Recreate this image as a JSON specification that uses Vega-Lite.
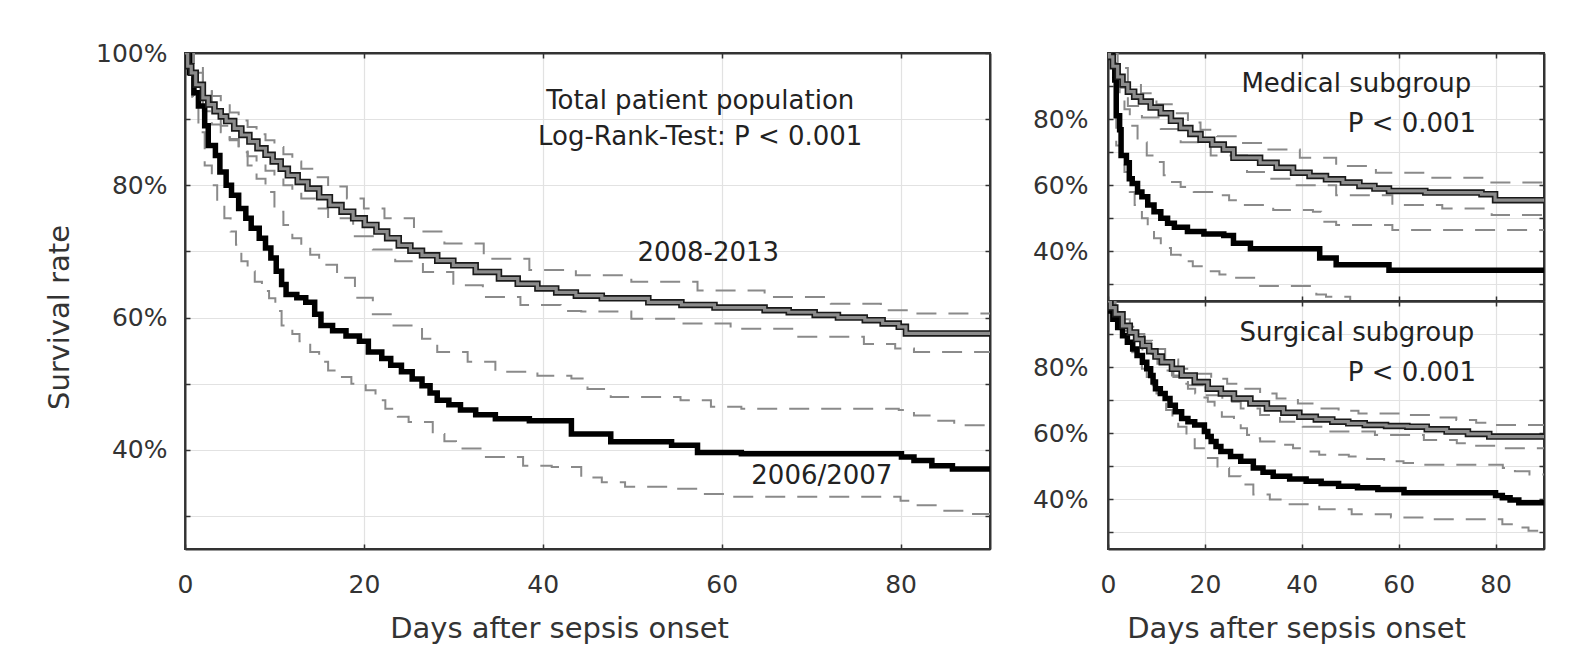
{
"$schema": "https://vega.github.io/schema/vega-lite/v6.json",
"padding": {"left": 44, "top": 40, "right": 10, "bottom": 10},
"background": "white",
"datasets": {
"c": [
{"p":"L","s":"b","d":0,"v":100},{"p":"L","s":"b","d":0.5,"v":97},{"p":"L","s":"b","d":1,"v":94},{"p":"L","s":"b","d":1.5,"v":92},{"p":"L","s":"b","d":2.2,"v":89},{"p":"L","s":"b","d":2.6,"v":86},{"p":"L","s":"b","d":3.4,"v":84.5},{"p":"L","s":"b","d":3.9,"v":82},{"p":"L","s":"b","d":4.6,"v":80},{"p":"L","s":"b","d":5.2,"v":78.5},{"p":"L","s":"b","d":6,"v":76.5},{"p":"L","s":"b","d":6.8,"v":75},{"p":"L","s":"b","d":7.4,"v":73.5},{"p":"L","s":"b","d":8.3,"v":72},{"p":"L","s":"b","d":9,"v":70.5},{"p":"L","s":"b","d":9.6,"v":69},{"p":"L","s":"b","d":10.2,"v":67},{"p":"L","s":"b","d":10.8,"v":65},{"p":"L","s":"b","d":11.3,"v":63.5},{"p":"L","s":"b","d":12.5,"v":63},{"p":"L","s":"b","d":13.5,"v":62.3},{"p":"L","s":"b","d":14.5,"v":60.5},{"p":"L","s":"b","d":15.2,"v":58.8},{"p":"L","s":"b","d":16.5,"v":58},{"p":"L","s":"b","d":18,"v":57.2},{"p":"L","s":"b","d":19.5,"v":56.4},{"p":"L","s":"b","d":20.5,"v":54.8},{"p":"L","s":"b","d":22,"v":53.8},{"p":"L","s":"b","d":23,"v":52.8},{"p":"L","s":"b","d":24.2,"v":51.8},{"p":"L","s":"b","d":25.4,"v":50.7},{"p":"L","s":"b","d":26.5,"v":49.7},{"p":"L","s":"b","d":27.4,"v":48.6},{"p":"L","s":"b","d":28.2,"v":47.5},{"p":"L","s":"b","d":29.5,"v":46.8},{"p":"L","s":"b","d":30.8,"v":46},{"p":"L","s":"b","d":32.5,"v":45.3},{"p":"L","s":"b","d":34.7,"v":44.7},{"p":"L","s":"b","d":38.5,"v":44.4},{"p":"L","s":"b","d":43.2,"v":42.4},{"p":"L","s":"b","d":47.6,"v":41.2},{"p":"L","s":"b","d":54.4,"v":40.7},{"p":"L","s":"b","d":57.3,"v":39.6},{"p":"L","s":"b","d":62.2,"v":39.4},{"p":"L","s":"b","d":80.1,"v":38.9},{"p":"L","s":"b","d":81.5,"v":38.4},{"p":"L","s":"b","d":83.5,"v":37.6},{"p":"L","s":"b","d":85.8,"v":37.1},{"p":"L","s":"b","d":90,"v":37.1},
{"p":"L","s":"bu","d":0,"v":100},{"p":"L","s":"bu","d":1,"v":98},{"p":"L","s":"bu","d":2,"v":95},{"p":"L","s":"bu","d":3,"v":92},{"p":"L","s":"bu","d":4,"v":89},{"p":"L","s":"bu","d":5,"v":87},{"p":"L","s":"bu","d":6,"v":85},{"p":"L","s":"bu","d":7,"v":83},{"p":"L","s":"bu","d":8,"v":81},{"p":"L","s":"bu","d":9,"v":79},{"p":"L","s":"bu","d":10,"v":76},{"p":"L","s":"bu","d":11,"v":74},{"p":"L","s":"bu","d":12,"v":72},{"p":"L","s":"bu","d":13,"v":71},{"p":"L","s":"bu","d":14,"v":69.5},{"p":"L","s":"bu","d":15,"v":68},{"p":"L","s":"bu","d":17,"v":66},{"p":"L","s":"bu","d":19,"v":63},{"p":"L","s":"bu","d":21,"v":60.5},{"p":"L","s":"bu","d":23,"v":58.8},{"p":"L","s":"bu","d":26.5,"v":56.8},{"p":"L","s":"bu","d":28.2,"v":54.8},{"p":"L","s":"bu","d":31.6,"v":53.3},{"p":"L","s":"bu","d":34.7,"v":51.8},{"p":"L","s":"bu","d":39.4,"v":51.2},{"p":"L","s":"bu","d":43.2,"v":50.8},{"p":"L","s":"bu","d":45,"v":49.2},{"p":"L","s":"bu","d":47.6,"v":48},{"p":"L","s":"bu","d":55.4,"v":47.5},{"p":"L","s":"bu","d":58.8,"v":46.5},{"p":"L","s":"bu","d":62.2,"v":46.2},{"p":"L","s":"bu","d":79.8,"v":46},{"p":"L","s":"bu","d":81.5,"v":45.2},{"p":"L","s":"bu","d":83.8,"v":44.4},{"p":"L","s":"bu","d":86,"v":43.7},{"p":"L","s":"bu","d":90,"v":43.7},
{"p":"L","s":"bl","d":0,"v":100},{"p":"L","s":"bl","d":0.8,"v":93},{"p":"L","s":"bl","d":1.5,"v":88},{"p":"L","s":"bl","d":2.2,"v":83},{"p":"L","s":"bl","d":3,"v":80},{"p":"L","s":"bl","d":3.6,"v":77},{"p":"L","s":"bl","d":4.4,"v":75},{"p":"L","s":"bl","d":5.1,"v":73},{"p":"L","s":"bl","d":5.7,"v":71},{"p":"L","s":"bl","d":6.3,"v":68.5},{"p":"L","s":"bl","d":7,"v":67},{"p":"L","s":"bl","d":7.8,"v":65.4},{"p":"L","s":"bl","d":8.6,"v":64},{"p":"L","s":"bl","d":9.4,"v":62.9},{"p":"L","s":"bl","d":10.1,"v":61},{"p":"L","s":"bl","d":10.8,"v":58.8},{"p":"L","s":"bl","d":12,"v":57.5},{"p":"L","s":"bl","d":12.8,"v":56.4},{"p":"L","s":"bl","d":14,"v":54.8},{"p":"L","s":"bl","d":15,"v":53.3},{"p":"L","s":"bl","d":16,"v":52},{"p":"L","s":"bl","d":17.1,"v":51},{"p":"L","s":"bl","d":18.6,"v":50},{"p":"L","s":"bl","d":20.2,"v":49},{"p":"L","s":"bl","d":21.3,"v":47.5},{"p":"L","s":"bl","d":22.4,"v":46.2},{"p":"L","s":"bl","d":23.8,"v":45},{"p":"L","s":"bl","d":25,"v":44.2},{"p":"L","s":"bl","d":27.7,"v":42.4},{"p":"L","s":"bl","d":29,"v":41.3},{"p":"L","s":"bl","d":30.3,"v":40.2},{"p":"L","s":"bl","d":33.4,"v":38.9},{"p":"L","s":"bl","d":37.8,"v":37.6},{"p":"L","s":"bl","d":41,"v":37.4},{"p":"L","s":"bl","d":44.3,"v":35.8},{"p":"L","s":"bl","d":46.6,"v":35.1},{"p":"L","s":"bl","d":49.2,"v":34.4},{"p":"L","s":"bl","d":54,"v":34.1},{"p":"L","s":"bl","d":58,"v":33.3},{"p":"L","s":"bl","d":61,"v":32.9},{"p":"L","s":"bl","d":80,"v":32.3},{"p":"L","s":"bl","d":81.5,"v":31.6},{"p":"L","s":"bl","d":84.5,"v":30.8},{"p":"L","s":"bl","d":87.8,"v":30.3},{"p":"L","s":"bl","d":90,"v":30.3},
{"p":"L","s":"g","d":0,"v":100},{"p":"L","s":"g","d":0.3,"v":98},{"p":"L","s":"g","d":0.7,"v":97},{"p":"L","s":"g","d":1.2,"v":95.2},{"p":"L","s":"g","d":2,"v":93.2},{"p":"L","s":"g","d":2.6,"v":92.2},{"p":"L","s":"g","d":3.3,"v":91.2},{"p":"L","s":"g","d":4,"v":90.4},{"p":"L","s":"g","d":4.6,"v":89.7},{"p":"L","s":"g","d":5.5,"v":88.6},{"p":"L","s":"g","d":6.3,"v":87.6},{"p":"L","s":"g","d":7.2,"v":86.6},{"p":"L","s":"g","d":8.1,"v":85.6},{"p":"L","s":"g","d":9,"v":84.6},{"p":"L","s":"g","d":9.8,"v":83.6},{"p":"L","s":"g","d":10.7,"v":82.5},{"p":"L","s":"g","d":11.5,"v":81.5},{"p":"L","s":"g","d":12.6,"v":80.5},{"p":"L","s":"g","d":13.7,"v":79.5},{"p":"L","s":"g","d":15,"v":78.2},{"p":"L","s":"g","d":16.2,"v":77},{"p":"L","s":"g","d":17.5,"v":76},{"p":"L","s":"g","d":18.8,"v":75},{"p":"L","s":"g","d":20.1,"v":74},{"p":"L","s":"g","d":21.4,"v":73},{"p":"L","s":"g","d":22.6,"v":72},{"p":"L","s":"g","d":23.9,"v":70.9},{"p":"L","s":"g","d":25.2,"v":70.1},{"p":"L","s":"g","d":26.5,"v":69.4},{"p":"L","s":"g","d":28.2,"v":68.6},{"p":"L","s":"g","d":30,"v":67.9},{"p":"L","s":"g","d":32.5,"v":66.9},{"p":"L","s":"g","d":35.1,"v":65.9},{"p":"L","s":"g","d":37.2,"v":65.1},{"p":"L","s":"g","d":39.4,"v":64.4},{"p":"L","s":"g","d":41.5,"v":63.8},{"p":"L","s":"g","d":43.7,"v":63.3},{"p":"L","s":"g","d":46.6,"v":62.9},{"p":"L","s":"g","d":51.8,"v":62.3},{"p":"L","s":"g","d":55.5,"v":61.9},{"p":"L","s":"g","d":59.2,"v":61.5},{"p":"L","s":"g","d":64.8,"v":61.1},{"p":"L","s":"g","d":67.5,"v":60.8},{"p":"L","s":"g","d":70.4,"v":60.4},{"p":"L","s":"g","d":73,"v":60},{"p":"L","s":"g","d":76,"v":59.6},{"p":"L","s":"g","d":78,"v":59.1},{"p":"L","s":"g","d":79.8,"v":58.6},{"p":"L","s":"g","d":80.6,"v":57.6},{"p":"L","s":"g","d":90,"v":57.6},
{"p":"L","s":"gu","d":0,"v":100},{"p":"L","s":"gu","d":1,"v":97},{"p":"L","s":"gu","d":2,"v":95},{"p":"L","s":"gu","d":3,"v":93.5},{"p":"L","s":"gu","d":4,"v":92.3},{"p":"L","s":"gu","d":5,"v":91},{"p":"L","s":"gu","d":6,"v":89.8},{"p":"L","s":"gu","d":7,"v":88.8},{"p":"L","s":"gu","d":8,"v":87.7},{"p":"L","s":"gu","d":9,"v":86.8},{"p":"L","s":"gu","d":10,"v":85.8},{"p":"L","s":"gu","d":11,"v":84.7},{"p":"L","s":"gu","d":12,"v":83.6},{"p":"L","s":"gu","d":13,"v":82.5},{"p":"L","s":"gu","d":14.5,"v":81.2},{"p":"L","s":"gu","d":16,"v":79.8},{"p":"L","s":"gu","d":18.1,"v":78},{"p":"L","s":"gu","d":20,"v":76.5},{"p":"L","s":"gu","d":22.3,"v":75},{"p":"L","s":"gu","d":25.6,"v":73},{"p":"L","s":"gu","d":29,"v":71.2},{"p":"L","s":"gu","d":33.4,"v":68.9},{"p":"L","s":"gu","d":38.5,"v":67.2},{"p":"L","s":"gu","d":43.7,"v":66.4},{"p":"L","s":"gu","d":49.9,"v":65.4},{"p":"L","s":"gu","d":57.3,"v":64.1},{"p":"L","s":"gu","d":64.8,"v":63.1},{"p":"L","s":"gu","d":72.2,"v":62.1},{"p":"L","s":"gu","d":77.8,"v":61.1},{"p":"L","s":"gu","d":81.5,"v":60.6},{"p":"L","s":"gu","d":90,"v":60.6},
{"p":"L","s":"gl","d":0,"v":100},{"p":"L","s":"gl","d":1,"v":93.5},{"p":"L","s":"gl","d":2,"v":91.2},{"p":"L","s":"gl","d":3,"v":89.2},{"p":"L","s":"gl","d":4,"v":88},{"p":"L","s":"gl","d":5,"v":86.8},{"p":"L","s":"gl","d":6,"v":85.6},{"p":"L","s":"gl","d":7,"v":84.4},{"p":"L","s":"gl","d":8,"v":83.3},{"p":"L","s":"gl","d":9,"v":82.2},{"p":"L","s":"gl","d":10,"v":81.1},{"p":"L","s":"gl","d":11,"v":80},{"p":"L","s":"gl","d":12,"v":79},{"p":"L","s":"gl","d":13,"v":78},{"p":"L","s":"gl","d":14.5,"v":76.5},{"p":"L","s":"gl","d":16,"v":75},{"p":"L","s":"gl","d":18.8,"v":72.3},{"p":"L","s":"gl","d":21,"v":70.3},{"p":"L","s":"gl","d":23.5,"v":68.5},{"p":"L","s":"gl","d":26.6,"v":66.9},{"p":"L","s":"gl","d":30,"v":64.9},{"p":"L","s":"gl","d":33.3,"v":63.1},{"p":"L","s":"gl","d":37.5,"v":61.9},{"p":"L","s":"gl","d":42,"v":61},{"p":"L","s":"gl","d":44.3,"v":60.9},{"p":"L","s":"gl","d":49.9,"v":59.8},{"p":"L","s":"gl","d":55.4,"v":59.1},{"p":"L","s":"gl","d":61,"v":58.3},{"p":"L","s":"gl","d":68.4,"v":57.1},{"p":"L","s":"gl","d":75.9,"v":56},{"p":"L","s":"gl","d":79.4,"v":55.3},{"p":"L","s":"gl","d":81.5,"v":54.8},{"p":"L","s":"gl","d":90,"v":54.8},
{"p":"M","s":"b","d":0,"v":100},{"p":"M","s":"b","d":1,"v":96},{"p":"M","s":"b","d":1.4,"v":91.8},{"p":"M","s":"b","d":1.7,"v":81},{"p":"M","s":"b","d":2.4,"v":76.8},{"p":"M","s":"b","d":2.7,"v":69},{"p":"M","s":"b","d":3.8,"v":66.8},{"p":"M","s":"b","d":4.4,"v":62},{"p":"M","s":"b","d":5,"v":60.5},{"p":"M","s":"b","d":6.1,"v":58},{"p":"M","s":"b","d":7,"v":56.5},{"p":"M","s":"b","d":8.2,"v":54},{"p":"M","s":"b","d":9.5,"v":52},{"p":"M","s":"b","d":10.9,"v":50},{"p":"M","s":"b","d":12.3,"v":48.5},{"p":"M","s":"b","d":13.7,"v":47.3},{"p":"M","s":"b","d":16.4,"v":46},{"p":"M","s":"b","d":19.8,"v":45.3},{"p":"M","s":"b","d":23.9,"v":44.8},{"p":"M","s":"b","d":25.9,"v":42.5},{"p":"M","s":"b","d":29.4,"v":40.8},{"p":"M","s":"b","d":43.7,"v":38},{"p":"M","s":"b","d":47.1,"v":36},{"p":"M","s":"b","d":58,"v":34.3},{"p":"M","s":"b","d":90,"v":34.3},
{"p":"M","s":"g","d":0,"v":100},{"p":"M","s":"g","d":0.3,"v":98.8},{"p":"M","s":"g","d":1,"v":96},{"p":"M","s":"g","d":2,"v":92.8},{"p":"M","s":"g","d":3,"v":90.5},{"p":"M","s":"g","d":4.1,"v":88.3},{"p":"M","s":"g","d":5.4,"v":86.8},{"p":"M","s":"g","d":6.8,"v":85.3},{"p":"M","s":"g","d":8.8,"v":83.5},{"p":"M","s":"g","d":10.9,"v":81.8},{"p":"M","s":"g","d":13,"v":79.5},{"p":"M","s":"g","d":15,"v":77.3},{"p":"M","s":"g","d":17,"v":75.5},{"p":"M","s":"g","d":19.1,"v":73.8},{"p":"M","s":"g","d":21.5,"v":72.3},{"p":"M","s":"g","d":23.9,"v":70.8},{"p":"M","s":"g","d":25.9,"v":68.3},{"p":"M","s":"g","d":31.4,"v":66.8},{"p":"M","s":"g","d":34.8,"v":65.3},{"p":"M","s":"g","d":38.2,"v":63.8},{"p":"M","s":"g","d":41.6,"v":62.8},{"p":"M","s":"g","d":45,"v":61.8},{"p":"M","s":"g","d":48.5,"v":60.8},{"p":"M","s":"g","d":51.9,"v":59.8},{"p":"M","s":"g","d":55,"v":59},{"p":"M","s":"g","d":58,"v":58.3},{"p":"M","s":"g","d":65.5,"v":57.8},{"p":"M","s":"g","d":77.1,"v":57.3},{"p":"M","s":"g","d":79.9,"v":55.5},{"p":"M","s":"g","d":90,"v":55.5},
{"p":"M","s":"gu","d":0,"v":100},{"p":"M","s":"gu","d":2,"v":95.5},{"p":"M","s":"gu","d":4.1,"v":91},{"p":"M","s":"gu","d":6.8,"v":87.8},{"p":"M","s":"gu","d":10,"v":84.5},{"p":"M","s":"gu","d":13.7,"v":81.8},{"p":"M","s":"gu","d":16.5,"v":79},{"p":"M","s":"gu","d":19.1,"v":76.8},{"p":"M","s":"gu","d":22.5,"v":74.8},{"p":"M","s":"gu","d":26.6,"v":72.8},{"p":"M","s":"gu","d":32.8,"v":70.8},{"p":"M","s":"gu","d":39.6,"v":68.3},{"p":"M","s":"gu","d":47.1,"v":65.8},{"p":"M","s":"gu","d":55.3,"v":63.8},{"p":"M","s":"gu","d":65.5,"v":62.3},{"p":"M","s":"gu","d":77.8,"v":60.8},{"p":"M","s":"gu","d":90,"v":60.3},
{"p":"M","s":"gl","d":0,"v":100},{"p":"M","s":"gl","d":1,"v":93},{"p":"M","s":"gl","d":2,"v":89.5},{"p":"M","s":"gl","d":4.1,"v":84},{"p":"M","s":"gl","d":7,"v":80.5},{"p":"M","s":"gl","d":10.9,"v":77},{"p":"M","s":"gl","d":15,"v":73},{"p":"M","s":"gl","d":21.2,"v":69},{"p":"M","s":"gl","d":28.7,"v":64},{"p":"M","s":"gl","d":33,"v":62},{"p":"M","s":"gl","d":38.2,"v":60},{"p":"M","s":"gl","d":47.1,"v":57},{"p":"M","s":"gl","d":58.7,"v":54},{"p":"M","s":"gl","d":69,"v":53},{"p":"M","s":"gl","d":79.2,"v":51},{"p":"M","s":"gl","d":90,"v":50.5},
{"p":"M","s":"bu","d":0,"v":100},{"p":"M","s":"bu","d":1,"v":97},{"p":"M","s":"bu","d":1.7,"v":92},{"p":"M","s":"bu","d":2.4,"v":87},{"p":"M","s":"bu","d":3.4,"v":83},{"p":"M","s":"bu","d":4.5,"v":78},{"p":"M","s":"bu","d":6.1,"v":73},{"p":"M","s":"bu","d":8,"v":69},{"p":"M","s":"bu","d":9.6,"v":67},{"p":"M","s":"bu","d":11.5,"v":63},{"p":"M","s":"bu","d":13,"v":61},{"p":"M","s":"bu","d":15,"v":59.5},{"p":"M","s":"bu","d":17.7,"v":58},{"p":"M","s":"bu","d":22.5,"v":57},{"p":"M","s":"bu","d":25,"v":55.5},{"p":"M","s":"bu","d":28,"v":54},{"p":"M","s":"bu","d":34.1,"v":52.5},{"p":"M","s":"bu","d":42.3,"v":52},{"p":"M","s":"bu","d":44,"v":49},{"p":"M","s":"bu","d":47.1,"v":48},{"p":"M","s":"bu","d":58.7,"v":46.5},{"p":"M","s":"bu","d":90,"v":46.5},
{"p":"M","s":"bl","d":0,"v":100},{"p":"M","s":"bl","d":1,"v":93},{"p":"M","s":"bl","d":1.7,"v":72},{"p":"M","s":"bl","d":2.5,"v":68},{"p":"M","s":"bl","d":3.4,"v":64},{"p":"M","s":"bl","d":4.5,"v":58},{"p":"M","s":"bl","d":5.5,"v":54},{"p":"M","s":"bl","d":7,"v":50},{"p":"M","s":"bl","d":8.2,"v":47},{"p":"M","s":"bl","d":9.5,"v":44},{"p":"M","s":"bl","d":10.9,"v":41},{"p":"M","s":"bl","d":13,"v":39},{"p":"M","s":"bl","d":15,"v":37},{"p":"M","s":"bl","d":17.5,"v":35.5},{"p":"M","s":"bl","d":19.8,"v":34},{"p":"M","s":"bl","d":23,"v":33},{"p":"M","s":"bl","d":25.9,"v":32},{"p":"M","s":"bl","d":31.4,"v":29.5},{"p":"M","s":"bl","d":39.6,"v":29.5},{"p":"M","s":"bl","d":43,"v":27},{"p":"M","s":"bl","d":45,"v":26.3},{"p":"M","s":"bl","d":50,"v":24.5},{"p":"M","s":"bl","d":90,"v":24},
{"p":"S","s":"b","d":0,"v":100},{"p":"S","s":"b","d":0.5,"v":97},{"p":"S","s":"b","d":1,"v":94.5},{"p":"S","s":"b","d":2,"v":92},{"p":"S","s":"b","d":3,"v":89.5},{"p":"S","s":"b","d":4,"v":87.5},{"p":"S","s":"b","d":5.1,"v":85.5},{"p":"S","s":"b","d":6,"v":83.5},{"p":"S","s":"b","d":7.1,"v":81.5},{"p":"S","s":"b","d":8,"v":79.5},{"p":"S","s":"b","d":8.8,"v":77.5},{"p":"S","s":"b","d":9.3,"v":75.5},{"p":"S","s":"b","d":9.8,"v":73.5},{"p":"S","s":"b","d":10.8,"v":72},{"p":"S","s":"b","d":11.8,"v":70.5},{"p":"S","s":"b","d":12.8,"v":68.5},{"p":"S","s":"b","d":13.9,"v":66.5},{"p":"S","s":"b","d":15.2,"v":64.5},{"p":"S","s":"b","d":16.5,"v":63.5},{"p":"S","s":"b","d":17.9,"v":62.5},{"p":"S","s":"b","d":19.9,"v":60.5},{"p":"S","s":"b","d":20.6,"v":59},{"p":"S","s":"b","d":21.3,"v":57.5},{"p":"S","s":"b","d":22.3,"v":56},{"p":"S","s":"b","d":23.3,"v":54.5},{"p":"S","s":"b","d":25.3,"v":53},{"p":"S","s":"b","d":27.4,"v":51.5},{"p":"S","s":"b","d":30,"v":49.5},{"p":"S","s":"b","d":32,"v":48.2},{"p":"S","s":"b","d":34.1,"v":47},{"p":"S","s":"b","d":37.5,"v":46.2},{"p":"S","s":"b","d":40.9,"v":45.5},{"p":"S","s":"b","d":44,"v":44.8},{"p":"S","s":"b","d":47.6,"v":44},{"p":"S","s":"b","d":51.5,"v":43.5},{"p":"S","s":"b","d":55.7,"v":43},{"p":"S","s":"b","d":61.1,"v":42},{"p":"S","s":"b","d":78.7,"v":42},{"p":"S","s":"b","d":80,"v":41.2},{"p":"S","s":"b","d":81.4,"v":40.5},{"p":"S","s":"b","d":83,"v":39.8},{"p":"S","s":"b","d":84.8,"v":39},{"p":"S","s":"b","d":90,"v":39},
{"p":"S","s":"g","d":0,"v":100},{"p":"S","s":"g","d":0.5,"v":98},{"p":"S","s":"g","d":1.5,"v":96},{"p":"S","s":"g","d":3,"v":92.5},{"p":"S","s":"g","d":4.5,"v":90.5},{"p":"S","s":"g","d":5.8,"v":88.5},{"p":"S","s":"g","d":7.1,"v":86.5},{"p":"S","s":"g","d":8.5,"v":84.8},{"p":"S","s":"g","d":9.8,"v":83.2},{"p":"S","s":"g","d":11.1,"v":81.5},{"p":"S","s":"g","d":13.2,"v":79.5},{"p":"S","s":"g","d":15.2,"v":77.5},{"p":"S","s":"g","d":17.9,"v":75.5},{"p":"S","s":"g","d":20.6,"v":73.5},{"p":"S","s":"g","d":23.3,"v":72},{"p":"S","s":"g","d":26,"v":70.5},{"p":"S","s":"g","d":29.4,"v":69},{"p":"S","s":"g","d":32.8,"v":67.5},{"p":"S","s":"g","d":36.2,"v":66.2},{"p":"S","s":"g","d":39.5,"v":65},{"p":"S","s":"g","d":42.9,"v":64.2},{"p":"S","s":"g","d":46.3,"v":63.5},{"p":"S","s":"g","d":49.6,"v":63},{"p":"S","s":"g","d":53,"v":62.5},{"p":"S","s":"g","d":57.4,"v":62.2},{"p":"S","s":"g","d":61.8,"v":62},{"p":"S","s":"g","d":65.8,"v":61.2},{"p":"S","s":"g","d":69.9,"v":60.5},{"p":"S","s":"g","d":74.3,"v":59.8},{"p":"S","s":"g","d":78.7,"v":59},{"p":"S","s":"g","d":90,"v":59},
{"p":"S","s":"gu","d":0,"v":100},{"p":"S","s":"gu","d":1.5,"v":97},{"p":"S","s":"gu","d":3,"v":94.5},{"p":"S","s":"gu","d":4.5,"v":92.2},{"p":"S","s":"gu","d":6,"v":90},{"p":"S","s":"gu","d":7.5,"v":88},{"p":"S","s":"gu","d":9.1,"v":85.5},{"p":"S","s":"gu","d":11.8,"v":82.3},{"p":"S","s":"gu","d":14.5,"v":79.5},{"p":"S","s":"gu","d":17.9,"v":78},{"p":"S","s":"gu","d":21.3,"v":76.5},{"p":"S","s":"gu","d":24.6,"v":75},{"p":"S","s":"gu","d":28,"v":73.5},{"p":"S","s":"gu","d":31.4,"v":72},{"p":"S","s":"gu","d":34.8,"v":70.5},{"p":"S","s":"gu","d":39.2,"v":69},{"p":"S","s":"gu","d":43.6,"v":67.5},{"p":"S","s":"gu","d":47.6,"v":66.8},{"p":"S","s":"gu","d":51.7,"v":66},{"p":"S","s":"gu","d":61.8,"v":65.5},{"p":"S","s":"gu","d":66.8,"v":64.8},{"p":"S","s":"gu","d":71.9,"v":64},{"p":"S","s":"gu","d":76,"v":63.2},{"p":"S","s":"gu","d":80,"v":62.5},{"p":"S","s":"gu","d":90,"v":62.5},
{"p":"S","s":"gl","d":0,"v":100},{"p":"S","s":"gl","d":1.5,"v":94},{"p":"S","s":"gl","d":3,"v":91},{"p":"S","s":"gl","d":5,"v":88},{"p":"S","s":"gl","d":7.1,"v":84.5},{"p":"S","s":"gl","d":10.2,"v":81},{"p":"S","s":"gl","d":13.2,"v":77.5},{"p":"S","s":"gl","d":16.5,"v":74.5},{"p":"S","s":"gl","d":19.9,"v":71.5},{"p":"S","s":"gl","d":23.6,"v":69.5},{"p":"S","s":"gl","d":27.4,"v":67.5},{"p":"S","s":"gl","d":31.4,"v":65.5},{"p":"S","s":"gl","d":35.5,"v":63.5},{"p":"S","s":"gl","d":40.2,"v":62},{"p":"S","s":"gl","d":44.9,"v":60.5},{"p":"S","s":"gl","d":55.1,"v":59.5},{"p":"S","s":"gl","d":65.2,"v":58},{"p":"S","s":"gl","d":72,"v":57},{"p":"S","s":"gl","d":76,"v":56.2},{"p":"S","s":"gl","d":80,"v":55.5},{"p":"S","s":"gl","d":90,"v":55.5},
{"p":"S","s":"bu","d":0,"v":100},{"p":"S","s":"bu","d":1.5,"v":97},{"p":"S","s":"bu","d":3,"v":93},{"p":"S","s":"bu","d":4.5,"v":91},{"p":"S","s":"bu","d":6,"v":89},{"p":"S","s":"bu","d":7.5,"v":86.5},{"p":"S","s":"bu","d":9,"v":84},{"p":"S","s":"bu","d":10.5,"v":81.5},{"p":"S","s":"bu","d":12,"v":79},{"p":"S","s":"bu","d":13.5,"v":77},{"p":"S","s":"bu","d":15,"v":75},{"p":"S","s":"bu","d":16.5,"v":73.5},{"p":"S","s":"bu","d":18,"v":72},{"p":"S","s":"bu","d":19.3,"v":70.8},{"p":"S","s":"bu","d":20.6,"v":69.5},{"p":"S","s":"bu","d":22,"v":67},{"p":"S","s":"bu","d":23.5,"v":65},{"p":"S","s":"bu","d":26,"v":63.5},{"p":"S","s":"bu","d":27.4,"v":61.5},{"p":"S","s":"bu","d":28.7,"v":59.5},{"p":"S","s":"bu","d":30,"v":58.5},{"p":"S","s":"bu","d":31.4,"v":57.5},{"p":"S","s":"bu","d":34.8,"v":56.5},{"p":"S","s":"bu","d":38.2,"v":55.5},{"p":"S","s":"bu","d":41,"v":54.5},{"p":"S","s":"bu","d":43.6,"v":53.5},{"p":"S","s":"bu","d":49.7,"v":53},{"p":"S","s":"bu","d":53.5,"v":52.2},{"p":"S","s":"bu","d":57,"v":51.5},{"p":"S","s":"bu","d":61,"v":51},{"p":"S","s":"bu","d":65.2,"v":50.5},{"p":"S","s":"bu","d":78.7,"v":50.5},{"p":"S","s":"bu","d":81.5,"v":49.5},{"p":"S","s":"bu","d":84,"v":48.5},{"p":"S","s":"bu","d":87,"v":47.5},{"p":"S","s":"bu","d":90,"v":47.5},
{"p":"S","s":"bl","d":0,"v":100},{"p":"S","s":"bl","d":1,"v":95.5},{"p":"S","s":"bl","d":2,"v":93},{"p":"S","s":"bl","d":3,"v":90},{"p":"S","s":"bl","d":4,"v":87},{"p":"S","s":"bl","d":5,"v":84.5},{"p":"S","s":"bl","d":6,"v":82},{"p":"S","s":"bl","d":7,"v":79.5},{"p":"S","s":"bl","d":8,"v":77},{"p":"S","s":"bl","d":9,"v":74.5},{"p":"S","s":"bl","d":10,"v":72},{"p":"S","s":"bl","d":11,"v":69.5},{"p":"S","s":"bl","d":12,"v":67},{"p":"S","s":"bl","d":13.3,"v":64.5},{"p":"S","s":"bl","d":14.5,"v":62},{"p":"S","s":"bl","d":16.2,"v":58.5},{"p":"S","s":"bl","d":17.9,"v":55.5},{"p":"S","s":"bl","d":20.2,"v":52.5},{"p":"S","s":"bl","d":22.6,"v":49.5},{"p":"S","s":"bl","d":25,"v":47},{"p":"S","s":"bl","d":27.4,"v":44.5},{"p":"S","s":"bl","d":30,"v":41.5},{"p":"S","s":"bl","d":33.4,"v":40},{"p":"S","s":"bl","d":36.8,"v":38.5},{"p":"S","s":"bl","d":43.6,"v":37},{"p":"S","s":"bl","d":50.3,"v":35.5},{"p":"S","s":"bl","d":58.4,"v":34.5},{"p":"S","s":"bl","d":65.2,"v":34},{"p":"S","s":"bl","d":78,"v":34},{"p":"S","s":"bl","d":81.4,"v":32.5},{"p":"S","s":"bl","d":84,"v":31.5},{"p":"S","s":"bl","d":86.8,"v":30.5},{"p":"S","s":"bl","d":90,"v":30.5}
],
"n": [
{"p":"L","t":"Total patient population","d":57.6,"v":91.6},
{"p":"L","t":"Log-Rank-Test: P < 0.001","d":57.6,"v":86.1},
{"p":"L","t":"2008-2013","d":58.5,"v":68.6},
{"p":"L","t":"2006/2007","d":71.2,"v":34.8},
{"p":"M","t":"Medical subgroup","d":75,"v":88.2},
{"p":"M","t":"P < 0.001","d":76,"v":76.1},
{"p":"S","t":"Surgical subgroup","d":75.6,"v":87.9},
{"p":"S","t":"P < 0.001","d":76,"v":75.8}
]
},
"hconcat": [
{
"width": 805, "height": 496,
"layer": [
{"data": {"name": "c"}, "transform": [{"filter": "datum.p === 'L' && datum.s !== 'b' && datum.s !== 'g'"}],
 "mark": {"type": "line", "interpolate": "step-after", "strokeDash": [20, 12], "strokeWidth": 2, "color": "#8a8a8a", "clip": true},
 "encoding": {
  "x": {"field": "d", "type": "quantitative", "scale": {"domain": [0, 90], "nice": false, "zero": false},
        "axis": {"orient": "bottom", "values": [0, 20, 40, 60, 80], "grid": true, "tickSize": -5, "labelPadding": 28, "domain": true, "title": "Days after sepsis onset", "titleX": 374, "titleY": 88, "titleBaseline": "alphabetic", "titleAnchor": "middle", "titleAlign": "center"}},
  "y": {"field": "v", "type": "quantitative", "scale": {"domain": [25, 100], "nice": false, "zero": false},
        "axis": {"orient": "left", "values": [30, 40, 50, 60, 70, 80, 90, 100], "labelExpr": "datum.value % 20 === 0 ? datum.value + '%' : ''", "grid": true, "tickSize": -5, "labelPadding": 23, "domain": true, "title": "Survival rate", "titleX": -117, "titleY": 264, "titleBaseline": "alphabetic", "titleAngle": -90, "titleAlign": "center", "titleAnchor": "middle"}},
  "detail": {"field": "s", "type": "nominal"}
 }},
{"data": {"name": "c"}, "transform": [{"filter": "datum.p === 'L' && datum.s === 'b'"}],
 "mark": {"type": "line", "interpolate": "step-after", "strokeWidth": 5.5, "color": "#000000", "clip": true},
 "encoding": {
  "x": {"field": "d", "type": "quantitative", "scale": {"domain": [0, 90], "nice": false, "zero": false},
        "axis": {"orient": "top", "values": [0, 20, 40, 60, 80], "grid": false, "labels": false, "tickSize": -5, "domain": true, "title": null}},
  "y": {"field": "v", "type": "quantitative", "scale": {"domain": [25, 100], "nice": false, "zero": false},
        "axis": {"orient": "right", "values": [30, 40, 50, 60, 70, 80, 90, 100], "grid": false, "labels": false, "tickSize": -5, "domain": true, "title": null}}
 }},
{"data": {"name": "c"}, "transform": [{"filter": "datum.p === 'L' && datum.s === 'g'"}],
 "mark": {"type": "line", "interpolate": "step-after", "strokeWidth": 6.5, "color": "#1a1a1a", "clip": true},
 "encoding": {
  "x": {"field": "d", "type": "quantitative", "scale": {"domain": [0, 90], "nice": false, "zero": false}, "axis": null},
  "y": {"field": "v", "type": "quantitative", "scale": {"domain": [25, 100], "nice": false, "zero": false}, "axis": null}
 }},
{"data": {"name": "c"}, "transform": [{"filter": "datum.p === 'L' && datum.s === 'g'"}],
 "mark": {"type": "line", "interpolate": "step-after", "strokeWidth": 3.2, "color": "#8c8c8c", "clip": true},
 "encoding": {
  "x": {"field": "d", "type": "quantitative", "scale": {"domain": [0, 90], "nice": false, "zero": false}, "axis": null},
  "y": {"field": "v", "type": "quantitative", "scale": {"domain": [25, 100], "nice": false, "zero": false}, "axis": null}
 }},
{"data": {"name": "n"}, "transform": [{"filter": "datum.p === 'L'"}],
 "mark": {"type": "text", "align": "center", "baseline": "alphabetic", "fontSize": 26, "font": "DejaVu Sans", "color": "#222222"},
 "encoding": {
  "x": {"field": "d", "type": "quantitative", "scale": {"domain": [0, 90], "nice": false, "zero": false}, "axis": null},
  "y": {"field": "v", "type": "quantitative", "scale": {"domain": [25, 100], "nice": false, "zero": false}, "axis": null},
  "text": {"field": "t", "type": "nominal"}
 }}
],
"resolve": {"axis": {"x": "independent", "y": "independent"}}
},
{
"vconcat": [
{
"width": 436, "height": 248,
"layer": [
{"data": {"name": "c"}, "transform": [{"filter": "datum.p === 'M' && datum.s !== 'b' && datum.s !== 'g'"}],
 "mark": {"type": "line", "interpolate": "step-after", "strokeDash": [20, 12], "strokeWidth": 2, "color": "#8a8a8a", "clip": true},
 "encoding": {
  "x": {"field": "d", "type": "quantitative", "scale": {"domain": [0, 90], "nice": false, "zero": false},
        "axis": {"orient": "bottom", "values": [0, 20, 40, 60, 80], "grid": true, "labels": false, "tickSize": -5, "domain": true, "title": null}},
  "y": {"field": "v", "type": "quantitative", "scale": {"domain": [25, 100], "nice": false, "zero": false},
        "axis": {"orient": "left", "values": [30, 40, 50, 60, 70, 80, 90, 100], "labelExpr": "datum.value % 20 === 0 && datum.value < 100 ? datum.value + '%' : ''", "grid": true, "tickSize": -5, "labelPadding": 25, "domain": true, "title": null}},
  "detail": {"field": "s", "type": "nominal"}
 }},
{"data": {"name": "c"}, "transform": [{"filter": "datum.p === 'M' && datum.s === 'b'"}],
 "mark": {"type": "line", "interpolate": "step-after", "strokeWidth": 5.5, "color": "#000000", "clip": true},
 "encoding": {
  "x": {"field": "d", "type": "quantitative", "scale": {"domain": [0, 90], "nice": false, "zero": false},
        "axis": {"orient": "top", "values": [0, 20, 40, 60, 80], "grid": false, "labels": false, "tickSize": -5, "domain": true, "title": null}},
  "y": {"field": "v", "type": "quantitative", "scale": {"domain": [25, 100], "nice": false, "zero": false},
        "axis": {"orient": "right", "values": [30, 40, 50, 60, 70, 80, 90, 100], "grid": false, "labels": false, "tickSize": -5, "domain": true, "title": null}}
 }},
{"data": {"name": "c"}, "transform": [{"filter": "datum.p === 'M' && datum.s === 'g'"}],
 "mark": {"type": "line", "interpolate": "step-after", "strokeWidth": 6.5, "color": "#1a1a1a", "clip": true},
 "encoding": {
  "x": {"field": "d", "type": "quantitative", "scale": {"domain": [0, 90], "nice": false, "zero": false}, "axis": null},
  "y": {"field": "v", "type": "quantitative", "scale": {"domain": [25, 100], "nice": false, "zero": false}, "axis": null}
 }},
{"data": {"name": "c"}, "transform": [{"filter": "datum.p === 'M' && datum.s === 'g'"}],
 "mark": {"type": "line", "interpolate": "step-after", "strokeWidth": 3.2, "color": "#8c8c8c", "clip": true},
 "encoding": {
  "x": {"field": "d", "type": "quantitative", "scale": {"domain": [0, 90], "nice": false, "zero": false}, "axis": null},
  "y": {"field": "v", "type": "quantitative", "scale": {"domain": [25, 100], "nice": false, "zero": false}, "axis": null}
 }},
{"data": {"name": "n"}, "transform": [{"filter": "datum.p === 'M'"}],
 "mark": {"type": "text", "align": "right", "baseline": "alphabetic", "fontSize": 26, "font": "DejaVu Sans", "color": "#222222"},
 "encoding": {
  "x": {"field": "d", "type": "quantitative", "scale": {"domain": [0, 90], "nice": false, "zero": false}, "axis": null},
  "y": {"field": "v", "type": "quantitative", "scale": {"domain": [25, 100], "nice": false, "zero": false}, "axis": null},
  "text": {"field": "t", "type": "nominal"}
 }}
],
"resolve": {"axis": {"x": "independent", "y": "independent"}}
},
{
"width": 436, "height": 248,
"layer": [
{"data": {"name": "c"}, "transform": [{"filter": "datum.p === 'S' && datum.s !== 'b' && datum.s !== 'g'"}],
 "mark": {"type": "line", "interpolate": "step-after", "strokeDash": [20, 12], "strokeWidth": 2, "color": "#8a8a8a", "clip": true},
 "encoding": {
  "x": {"field": "d", "type": "quantitative", "scale": {"domain": [0, 90], "nice": false, "zero": false},
        "axis": {"orient": "bottom", "values": [0, 20, 40, 60, 80], "grid": true, "tickSize": -5, "labelPadding": 28, "domain": true, "title": "Days after sepsis onset", "titleX": 188, "titleY": 88, "titleBaseline": "alphabetic", "titleAnchor": "middle", "titleAlign": "center"}},
  "y": {"field": "v", "type": "quantitative", "scale": {"domain": [25, 100], "nice": false, "zero": false},
        "axis": {"orient": "left", "values": [30, 40, 50, 60, 70, 80, 90, 100], "labelExpr": "datum.value % 20 === 0 && datum.value < 100 ? datum.value + '%' : ''", "grid": true, "tickSize": -5, "labelPadding": 25, "domain": true, "title": null}},
  "detail": {"field": "s", "type": "nominal"}
 }},
{"data": {"name": "c"}, "transform": [{"filter": "datum.p === 'S' && datum.s === 'b'"}],
 "mark": {"type": "line", "interpolate": "step-after", "strokeWidth": 5.5, "color": "#000000", "clip": true},
 "encoding": {
  "x": {"field": "d", "type": "quantitative", "scale": {"domain": [0, 90], "nice": false, "zero": false},
        "axis": {"orient": "top", "values": [0, 20, 40, 60, 80], "grid": false, "labels": false, "tickSize": -5, "domain": true, "title": null}},
  "y": {"field": "v", "type": "quantitative", "scale": {"domain": [25, 100], "nice": false, "zero": false},
        "axis": {"orient": "right", "values": [30, 40, 50, 60, 70, 80, 90, 100], "grid": false, "labels": false, "tickSize": -5, "domain": true, "title": null}}
 }},
{"data": {"name": "c"}, "transform": [{"filter": "datum.p === 'S' && datum.s === 'g'"}],
 "mark": {"type": "line", "interpolate": "step-after", "strokeWidth": 6.5, "color": "#1a1a1a", "clip": true},
 "encoding": {
  "x": {"field": "d", "type": "quantitative", "scale": {"domain": [0, 90], "nice": false, "zero": false}, "axis": null},
  "y": {"field": "v", "type": "quantitative", "scale": {"domain": [25, 100], "nice": false, "zero": false}, "axis": null}
 }},
{"data": {"name": "c"}, "transform": [{"filter": "datum.p === 'S' && datum.s === 'g'"}],
 "mark": {"type": "line", "interpolate": "step-after", "strokeWidth": 3.2, "color": "#8c8c8c", "clip": true},
 "encoding": {
  "x": {"field": "d", "type": "quantitative", "scale": {"domain": [0, 90], "nice": false, "zero": false}, "axis": null},
  "y": {"field": "v", "type": "quantitative", "scale": {"domain": [25, 100], "nice": false, "zero": false}, "axis": null}
 }},
{"data": {"name": "n"}, "transform": [{"filter": "datum.p === 'S'"}],
 "mark": {"type": "text", "align": "right", "baseline": "alphabetic", "fontSize": 26, "font": "DejaVu Sans", "color": "#222222"},
 "encoding": {
  "x": {"field": "d", "type": "quantitative", "scale": {"domain": [0, 90], "nice": false, "zero": false}, "axis": null},
  "y": {"field": "v", "type": "quantitative", "scale": {"domain": [25, 100], "nice": false, "zero": false}, "axis": null},
  "text": {"field": "t", "type": "nominal"}
 }}
],
"resolve": {"axis": {"x": "independent", "y": "independent"}}
}
],
"spacing": 0,
"bounds": "flush"
}
],
"spacing": 118,
"bounds": "flush",
"config": {
 "view": {"stroke": "#333333", "strokeWidth": 2},
 "axis": {"labelFont": "DejaVu Sans", "labelFontSize": 25, "labelColor": "#333333", "titleFont": "DejaVu Sans", "titleFontSize": 29, "titleFontWeight": "normal", "titleColor": "#333333", "gridColor": "#e2e2e2", "gridWidth": 1.2, "tickColor": "#333333", "tickWidth": 1.5, "domainColor": "#333333", "domainWidth": 2, "labelFlush": false, "labelOverlap": false, "labelBound": false}
}
}
